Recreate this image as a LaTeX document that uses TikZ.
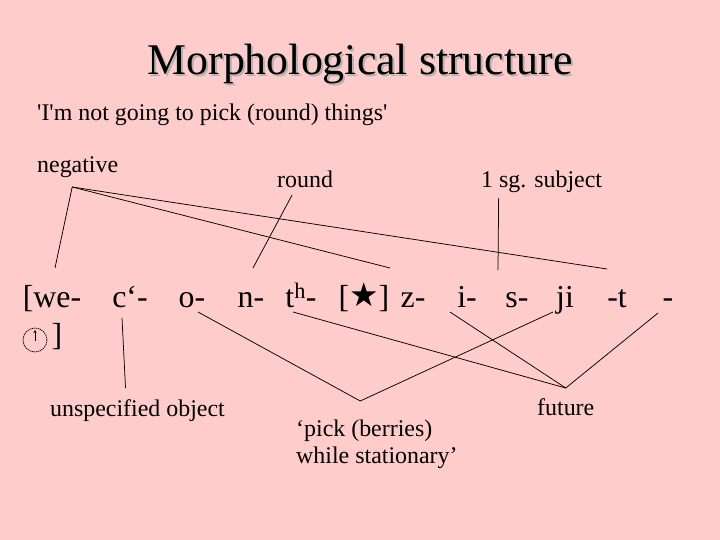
\documentclass[tikz,border=0pt]{standalone}
\usepackage{fontspec}
\newfontfamily\slidefont{Liberation Serif}
\newfontfamily\symfont{DejaVu Sans}
\usetikzlibrary{arrows.meta}
\definecolor{slidepink}{RGB}{255,204,204}

\begin{document}
\begin{tikzpicture}[x=1bp,y=-1bp,
  gloss/.style={anchor=base west,inner sep=0pt,font=\slidefont\fontsize{24}{28}\selectfont},
  morph/.style={anchor=base,inner sep=0pt,font=\slidefont\fontsize{32}{38}\selectfont},
  link/.style={line width=.75bp}]
  % Slide
  \fill[slidepink] (0,0) rectangle (720,540);

  % Title and translation
  \node[anchor=base,inner sep=0pt,font=\slidefont\fontsize{44}{50}\selectfont,text=gray!60] at (362,77) {Morphological structure};
  \node[anchor=base,inner sep=0pt,font=\slidefont\fontsize{44}{50}\selectfont] (title) at (360,75) {Morphological structure};
  \node[gloss] (transl) at (37,121) {'I'm not going to pick (round) things'};

  % Glosses
  \node[gloss] (neg) at (37,173) {negative};
  \node[gloss] (shape) at (277,188) {round};
  \node[gloss] (subj) at (481,188) {1 sg. subject};
  \node[gloss] (unspec) at (50,416) {unspecified object};
  \node[gloss] (fut) at (537,415) {future};
  \node[gloss] (pick) at (296,436) {‘pick (berries)};
  \node[gloss] (pickb) at (296,463) {while stationary’};

  % Morphemes
  \node[morph] (we) at (52,307) {[we-};
  \node[morph] (c) at (130,307) {c‘-};
  \node[morph] (o) at (192,307) {o-};
  \node[morph] (n) at (251,307) {n-};
  \node[morph] (th) at (301,307) {t\textsuperscript{h}-};
  \node[morph] (stem) at (364,307) {[{\symfont\fontsize{33}{33}\selectfont\raisebox{1bp}{★}}]};
  \node[morph] (z) at (413,307) {z-};
  \node[morph] (i) at (467,307) {i-};
  \node[morph] (s) at (517,307) {s-};
  \node[morph] (ji) at (565,307) {ji};
  \node[morph] (t) at (617,307) {-t};
  \node[morph] (dash) at (668,307) {-};
  \node[morph] (close) at (57,345) {]};
  % clock sign
  \draw[dash pattern=on 1.4bp off .7bp,line width=.7bp] (35,340) circle[radius=12bp];
  \draw[line width=.7bp,-{Stealth[length=3bp,width=3bp]}] (35,341) -- (35,330);

  % Joints
  \coordinate (negtip) at ([shift={(-5.5,14)}]neg.base);
  \coordinate (pickjoin) at ([shift={(-4,-35)}]pick.base);
  \coordinate (futjoin) at ([shift={(0,-27)}]fut.base);

  % Links above
  \draw[link] (negtip) -- ([shift={(3,-39)}]we.base);
  \draw[link] (negtip) -- ([shift={(26,-39)}]stem.base);
  \draw[link] (negtip) -- ([shift={(-10,-38)}]t.base);
  \draw[link] ([shift={(-13,7)}]shape.base) -- ([shift={(2,-39)}]n.base);
  \draw[link] ([shift={(-43,10)}]subj.base) -- ([shift={(-19,-37)}]s.base);

  % Links below
  \draw[link] ([shift={(-8,11)}]c.base) -- ([shift={(-12,-28)}]unspec.base);
  \draw[link] ([shift={(6,5)}]o.base) -- (pickjoin) -- ([shift={(-12,5)}]ji.base);
  \draw[link] ([shift={(-8,5)}]th.base) -- (futjoin);
  \draw[link] ([shift={(-17,5)}]i.base) -- (futjoin);
  \draw[link] ([shift={(-10,6)}]dash.base) -- (futjoin);
\end{tikzpicture}
\end{document}
